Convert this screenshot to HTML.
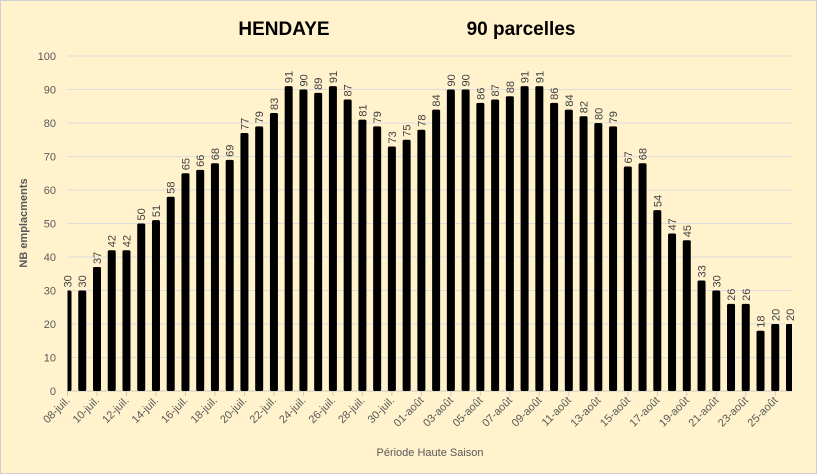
<!DOCTYPE html>
<html><head><meta charset="utf-8"><style>
body{margin:0;background:#fff}
#c{position:relative;width:817px;height:474px;background:#FFF2CC;box-sizing:border-box;border:1px solid #d0d0d0;overflow:hidden;font-family:"Liberation Sans",sans-serif}
</style></head><body>
<div id="c">
<svg id="s" width="817" height="474">
<text x="283" y="34" font-size="19" font-weight="bold" text-anchor="middle" fill="#000">HENDAYE</text>
<text x="520" y="34" font-size="19" font-weight="bold" text-anchor="middle" fill="#000">90 parcelles</text>
<text transform="translate(26,222) rotate(-90)" font-size="11" font-weight="bold" fill="#595959" text-anchor="middle">NB emplacments</text>
<text x="429" y="455" font-size="11" fill="#595959" text-anchor="middle">Période Haute Saison</text>
<g id="g"></g>
</svg>
</div>
<script>
const categories=["08-juil.","09-juil.","10-juil.","11-juil.","12-juil.","13-juil.","14-juil.","15-juil.","16-juil.","17-juil.","18-juil.","19-juil.","20-juil.","21-juil.","22-juil.","23-juil.","24-juil.","25-juil.","26-juil.","27-juil.","28-juil.","29-juil.","30-juil.","31-juil.","01-août","02-août","03-août","04-août","05-août","06-août","07-août","08-août","09-août","10-août","11-août","12-août","13-août","14-août","15-août","16-août","17-août","18-août","19-août","20-août","21-août","22-août","23-août","24-août","25-août","26-août"];
const values=[30,30,37,42,42,50,51,58,65,66,68,69,77,79,83,91,90,89,91,87,81,79,73,75,78,84,90,90,86,87,88,91,91,86,84,82,80,79,67,68,54,47,45,33,30,26,26,18,20,20];
const yTicks=[0,10,20,30,40,50,60,70,80,90,100];
const NS="http://www.w3.org/2000/svg";
const g=document.getElementById('g');
const L=66.5,R=791,Y0=390,Y1=55;
const step=(789-66.5)/(categories.length-1);
const x=i=>L+i*step;
const y=v=>Y0-(v/100)*(Y0-Y1);
function mk(t,a){const e=document.createElementNS(NS,t);for(const k in a)e.setAttribute(k,a[k]);g.appendChild(e);return e;}
const defs=mk('clipPath',{id:'pc'});
const cr=document.createElementNS(NS,'rect');cr.setAttribute('x',L);cr.setAttribute('y',0);cr.setAttribute('width',R-L);cr.setAttribute('height',Y0);defs.appendChild(cr);
yTicks.forEach(t=>{
 const l=mk('line',{x1:L,x2:R,y1:y(t),y2:y(t),stroke:t===0?'#c8c8c8':'#dcdcdc','stroke-width':1});
 
 
 const tx=mk('text',{x:55,y:y(t)+4,'font-size':11,fill:'#595959','text-anchor':'end'});
 tx.textContent=t;
 
 
});
values.forEach((v,i)=>{
 const b=mk('rect',{x:x(i)-4,y:y(v),width:8,height:Y0-y(v),rx:1.5,fill:'#000','clip-path':'url(#pc)'});
 
 
 const t=mk('text',{transform:`translate(${x(i)+4},${y(v)-3}) rotate(-90)`,'font-size':11,fill:'#404040'});
 t.textContent=v;
 
 
 if(i%2===0){
  const tk=mk('line',{x1:x(i),x2:x(i),y1:Y0,y2:Y0+5,stroke:'#c8c8c8'});
  
  
  const xl=mk('text',{transform:`translate(${x(i)+3},${Y0+10}) rotate(-45)`,'font-size':11,fill:'#595959','text-anchor':'end'});
  xl.textContent=categories[i];
  
  
 }
});
</script>
</body></html>
